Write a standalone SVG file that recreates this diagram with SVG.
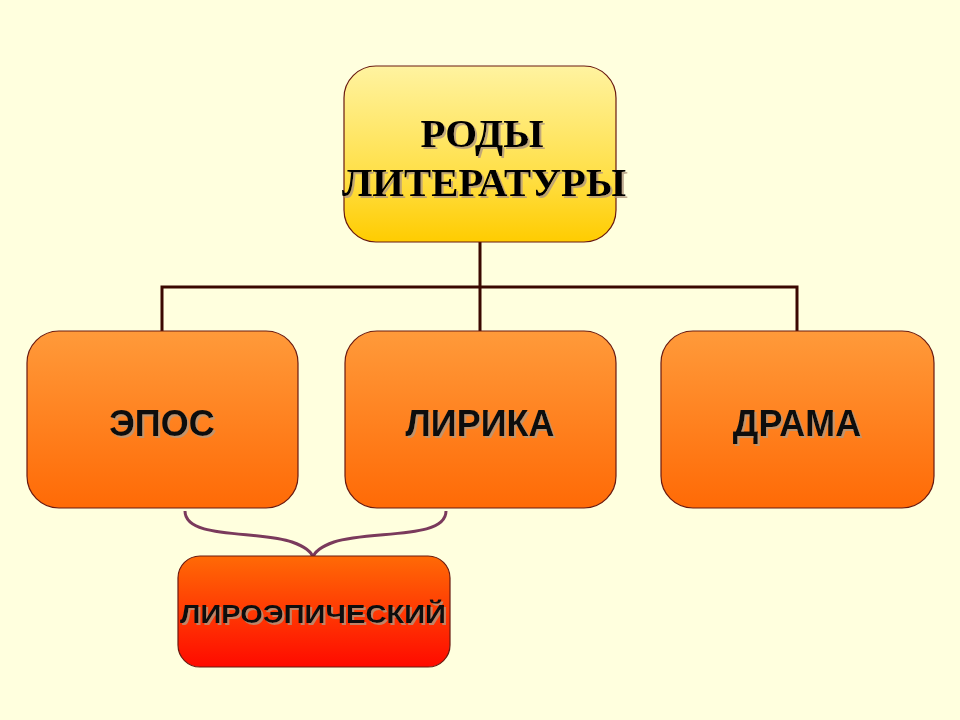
<svg xmlns="http://www.w3.org/2000/svg" width="960" height="720" viewBox="0 0 960 720">
<defs>
<linearGradient id="gY" x1="0" y1="0" x2="0" y2="1"><stop offset="0" stop-color="#FFF3A0"/><stop offset="0.6" stop-color="#FFE04A"/><stop offset="1" stop-color="#FFCC00"/></linearGradient>
<linearGradient id="gO" x1="0" y1="0" x2="0" y2="1"><stop offset="0" stop-color="#FF9A3A"/><stop offset="1" stop-color="#FF6A06"/></linearGradient>
<linearGradient id="gR" x1="0" y1="0" x2="0" y2="1"><stop offset="0" stop-color="#FF6A06"/><stop offset="1" stop-color="#FF0A00"/></linearGradient>
<filter id="sh" x="-5%" y="-20%" width="110%" height="140%"><feDropShadow dx="2" dy="2" stdDeviation="0.6" flood-color="#b09880" flood-opacity="0.8"/></filter>
</defs>
<style>
.box{stroke:#6a1a10;stroke-width:1.2}
.t1{font-family:"Liberation Serif",serif;font-weight:bold;font-size:41px;fill:#000;text-anchor:middle}
.t2{font-family:"Liberation Sans",Arial,sans-serif;font-weight:bold;font-size:36px;fill:#111;text-anchor:middle}
.t3{font-family:"Liberation Sans",Arial,sans-serif;font-weight:bold;font-size:25px;fill:#111;text-anchor:middle}
.ln{fill:none;stroke:#3a0800;stroke-width:3}
.br{fill:none;stroke:#7a3a5c;stroke-width:3}
</style>
<rect width="960" height="720" fill="#FFFFDE"/>
<g id="connectors">
<path class="ln" d="M480,242 V287 M162,331 V287 H797 V331 M480,287 V331"/>
<path class="br" d="M185,511 C185,540 260,530 292,542 C306,547 312,552 313,558"/>
<path class="br" d="M446,511 C446,540 371,530 334,542 C320,547 314,552 313,558"/>
</g>
<g id="rody">
<rect class="box" x="344" y="66" width="272" height="176" rx="32" fill="url(#gY)"/>
<text class="t1" x="482" y="147" filter="url(#sh)">РОДЫ</text>
<text class="t1" x="484" y="196" filter="url(#sh)" textLength="284" lengthAdjust="spacingAndGlyphs">ЛИТЕРАТУРЫ</text>
</g>
<g id="epos">
<rect class="box" x="27" y="331" width="271" height="177" rx="32" fill="url(#gO)"/>
<text class="t2" x="162" y="436" filter="url(#sh)">ЭПОС</text>
</g>
<g id="lirika">
<rect class="box" x="345" y="331" width="271" height="177" rx="32" fill="url(#gO)"/>
<text class="t2" x="480" y="436" filter="url(#sh)">ЛИРИКА</text>
</g>
<g id="drama">
<rect class="box" x="661" y="331" width="273" height="177" rx="32" fill="url(#gO)"/>
<text class="t2" x="797" y="436" filter="url(#sh)">ДРАМА</text>
</g>
<g id="liroepic">
<rect class="box" x="178" y="556" width="272" height="111" rx="22" fill="url(#gR)"/>
<text class="t3" x="313" y="623" filter="url(#sh)" textLength="266" lengthAdjust="spacingAndGlyphs">ЛИРОЭПИЧЕСКИЙ</text>
</g>
</svg>
